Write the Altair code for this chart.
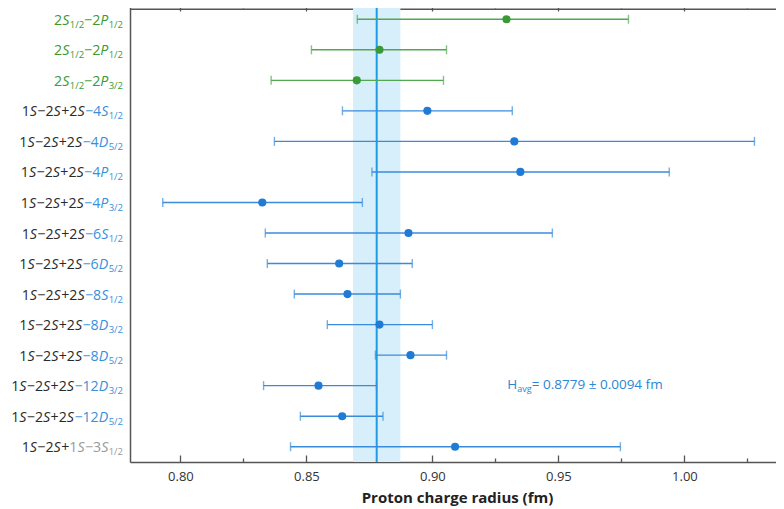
import altair as alt
import pandas as pd

# ---------------- data ----------------
rows = [f"r{i:02d}" for i in range(1, 16)]
values = [0.9294, 0.8790, 0.8700, 0.8980, 0.9325, 0.9349, 0.8325, 0.8905,
          0.8630, 0.8663, 0.8790, 0.8913, 0.8548, 0.8642, 0.9090]
lower = [0.8702, 0.8520, 0.8360, 0.8643, 0.8373, 0.8760, 0.7930, 0.8337,
         0.8345, 0.8452, 0.8583, 0.8774, 0.8330, 0.8476, 0.8437]
upper = [0.9778, 0.9056, 0.9044, 0.9317, 1.0278, 0.9940, 0.8722, 0.9476,
         0.8920, 0.8873, 0.9000, 0.9056, 0.8778, 0.8804, 0.9746]
groups = ["g"] * 3 + ["b"] * 12

GREEN = "#3a9a35"
GREEN_BAR = "#52a84f"
BLUE = "#1f7bd3"
BLUE_BAR = "#3b8bdb"
LBLUE = "#3a8fdc"
BLACK = "#2a2a2a"
GRAY = "#9a9a9a"

# label chunks: (text, colour key); "_" starts a subscript
label_chunks = [
    [("2S_1/2", "g"), ("−2P_1/2", "g")],
    [("2S_1/2", "g"), ("−2P_1/2", "g")],
    [("2S_1/2", "g"), ("−2P_3/2", "g")],
    [("1S−2S+2S", "k"), ("−4S_1/2", "b")],
    [("1S−2S+2S", "k"), ("−4D_5/2", "b")],
    [("1S−2S+2S", "k"), ("−4P_1/2", "b")],
    [("1S−2S+2S", "k"), ("−4P_3/2", "b")],
    [("1S−2S+2S", "k"), ("−6S_1/2", "b")],
    [("1S−2S+2S", "k"), ("−6D_5/2", "b")],
    [("1S−2S+2S", "k"), ("−8S_1/2", "b")],
    [("1S−2S+2S", "k"), ("−8D_3/2", "b")],
    [("1S−2S+2S", "k"), ("−8D_5/2", "b")],
    [("1S−2S+2S", "k"), ("−12D_3/2", "b")],
    [("1S−2S+2S", "k"), ("−12D_5/2", "b")],
    [("1S−2S+", "k"), ("1S−3S_1/2", "gr")],
]
label_colors = {"g": GREEN, "b": LBLUE, "k": BLACK, "gr": GRAY}

h_avg = 0.8779
h_unc = 0.0094
major_ticks = [0.80, 0.85, 0.90, 0.95, 1.00]
minor_ticks = [0.825, 0.875, 0.925, 0.975, 1.025]
ann_x_end = 0.9925
ann_row = "r13"
ann_main = "H"
ann_sub = "avg"
ann_rest = " = 0.8779 ± 0.0094 fm"

# ---------------- layout helpers ----------------
FONT = "Open Sans"
FS = 14.2
FS_SUB = 9.5
W, H = 654, 458
LABEL_ANCHOR = -7

WIDTHS = {
    "0": .572, "1": .572, "2": .572, "3": .572, "4": .572, "5": .572,
    "6": .572, "7": .572, "8": .572, "9": .572, "−": .572, "+": .572,
    "=": .572, "±": .572, "/": .363, "S": .53, "P": .59, "D": .70,
    "H": .74, "a": .556, "v": .50, "g": .561, " ": .26, ".": .266,
    "f": .343, "m": .862,
}


def text_width(s, size):
    return sum(WIDTHS.get(c, .57) for c in s) * size


recs = []
for row, chunks in zip(rows, label_chunks):
    runs = []
    for txt, ck in chunks:
        col = label_colors[ck]
        main, _, sub = txt.partition("_")
        cur, cur_kind = "", None
        for ch in main:
            kind = "i" if ch in "SPD" else "n"
            if kind != cur_kind and cur:
                runs.append((cur, cur_kind, col))
                cur = ""
            cur_kind = kind
            cur += ch
        if cur:
            runs.append((cur, cur_kind, col))
        if sub:
            runs.append((sub, "s", col))
    widths = [text_width(t, FS_SUB if k == "s" else FS) for t, k, _ in runs]
    x = LABEL_ANCHOR - sum(widths)
    for (t, k, c), w in zip(runs, widths):
        recs.append({"row": row, "txt": t, "kind": k, "color": c, "px": x})
        x += w
seg = pd.DataFrame(recs)

df = pd.DataFrame({
    "row": rows, "val": values, "lo": lower, "hi": upper,
    "color": [GREEN if g == "g" else BLUE for g in groups],
    "bcolor": [GREEN_BAR if g == "g" else BLUE_BAR for g in groups],
})
band_df = pd.DataFrame({"lo": [h_avg - h_unc], "hi": [h_avg + h_unc]})
avg_df = pd.DataFrame({"x": [h_avg]})
ann_df = pd.DataFrame({"x": [ann_x_end], "row": [ann_row]})

xs = alt.Scale(domain=[0.78, 0.78 + W / 2520], nice=False, zero=False)
ys = alt.Scale(domain=rows, type="point", padding=0.5)
Y = alt.Y("row:N", scale=ys, axis=None)
AX = "#555555"


def tick_axis(orient, vals, size):
    return alt.Axis(orient=orient, values=vals, labels=False, domain=False,
                    grid=False, tickSize=size, offset=-size, title="",
                    tickColor=AX, tickWidth=1.3)


band = alt.Chart(band_df).mark_rect(color="#d6effb").encode(
    x=alt.X("lo:Q", scale=xs, axis=alt.Axis(
        orient="bottom", values=major_ticks, format=".2f", ticks=False,
        tickSize=0, domain=True, domainColor=AX, domainWidth=1.5,
        grid=False, labelPadding=8,
        labelFont=FONT, labelFontSize=13, labelColor="#333333",
        title="Proton charge radius (fm)", titleFont=FONT,
        titleFontSize=15, titleFontWeight="bold", titleColor="#222222",
        titlePadding=7)),
    x2="hi:Q",
)

avg_rule = alt.Chart(avg_df).mark_rule(color="#1e9de6", strokeWidth=2).encode(
    x=alt.X("x:Q", scale=xs, axis=tick_axis("top", minor_ticks, 4)),
)

bars = alt.Chart(df).mark_rule(strokeWidth=1.4).encode(
    x=alt.X("lo:Q", scale=xs, axis=tick_axis("bottom", major_ticks, 7)),
    x2="hi:Q",
    y=Y,
    color=alt.Color("bcolor:N", scale=None),
)

caps = alt.Chart(df).transform_fold(["lo", "hi"], as_=["end", "xv"]).mark_tick(
    size=9, thickness=1.4).encode(
    x=alt.X("xv:Q", scale=xs, axis=tick_axis("bottom", minor_ticks, 4)),
    y=Y,
    color=alt.Color("bcolor:N", scale=None),
)

left_axis = alt.Axis(orient="left", domain=True, ticks=False, labels=False,
                     grid=False, title="", domainColor=AX, domainWidth=1.5)

points = alt.Chart(df).mark_circle(size=66, opacity=1).encode(
    x=alt.X("val:Q", scale=xs, axis=tick_axis("top", major_ticks, 7)),
    y=alt.Y("row:N", scale=ys, axis=left_axis),
    color=alt.Color("color:N", scale=None),
)


def label_layer(kind, style, size, dy):
    return alt.Chart(seg[seg["kind"] == kind]).mark_text(
        align="left", baseline="alphabetic", font=FONT, fontSize=size,
        fontStyle=style, dy=dy).encode(
        x=alt.X("px:Q", scale=None, axis=None),
        y=Y,
        text="txt:N",
        color=alt.Color("color:N", scale=None),
    )


lab_n = label_layer("n", "normal", FS, 5.5)
lab_i = label_layer("i", "italic", FS, 5.5)
lab_s = label_layer("s", "normal", FS_SUB, 8.5)

AFS = 13.5
AFS_SUB = 9
w_rest = text_width(ann_rest, AFS)
w_sub = text_width(ann_sub, AFS_SUB)
w_main = text_width(ann_main, AFS)

top_line_axis = alt.Axis(orient="top", domain=True, ticks=False, labels=False,
                         grid=False, offset=-4.75, title="", domainColor=AX,
                         domainWidth=1.5)


def ann_layer(txt, size, dx, dy, axis):
    return alt.Chart(ann_df).mark_text(
        align="left", baseline="alphabetic", font=FONT, fontSize=size,
        color="#2a86d6", dx=dx, dy=dy).encode(
        x=alt.X("x:Q", scale=xs, axis=axis),
        y=Y,
        text=alt.value(txt),
    )


ann = [ann_layer(ann_main, AFS, -(w_rest + w_sub + w_main), 3, top_line_axis),
       ann_layer(ann_sub, AFS_SUB, -(w_rest + w_sub), 6, None),
       ann_layer(ann_rest, AFS, -w_rest, 3, None)]

chart = alt.layer(band, avg_rule, bars, caps, points, lab_n, lab_i, lab_s, *ann).resolve_axis(
    x="independent", y="independent").properties(
    width=W, height=H,
    autosize=alt.AutoSizeParams(type="none"),
    padding={"left": 122, "top": -4, "right": -8, "bottom": 46},
).configure_view(stroke="transparent", strokeWidth=0)

chart.save("out.html", embed_options={"renderer": "svg", "actions": False})
